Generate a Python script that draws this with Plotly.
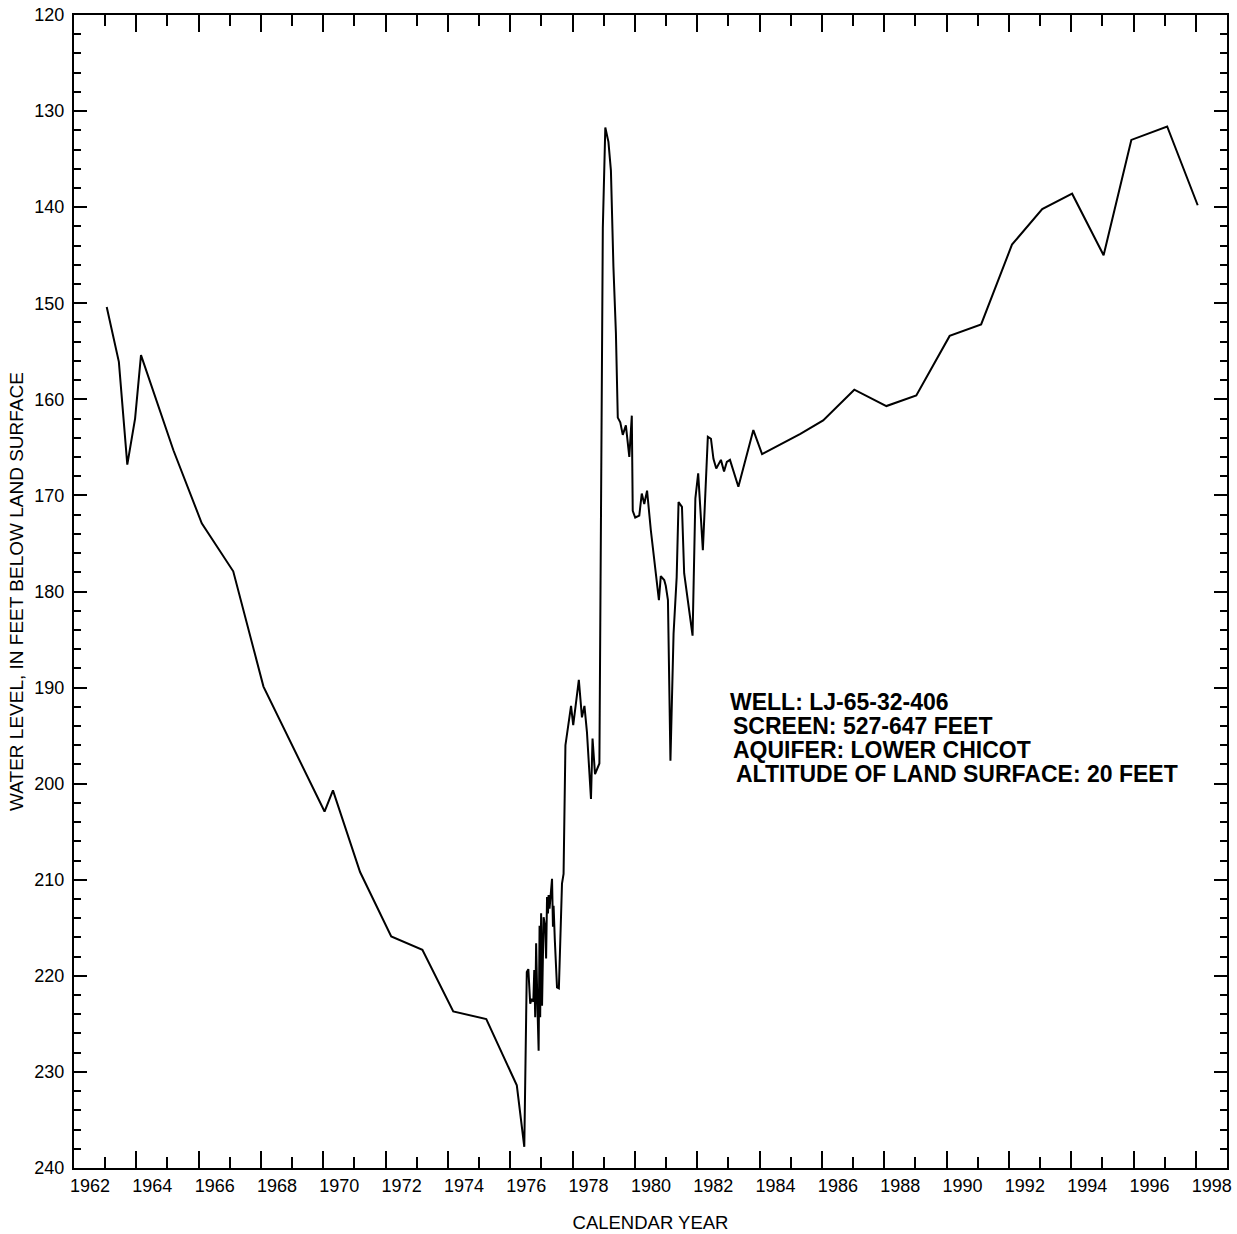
import plotly.graph_objects as go

# Decimal calendar year of each measurement
years = [
    1963.05, 1963.44, 1963.71, 1963.96, 1964.15, 1965.19, 1966.10, 1967.11,
    1968.08, 1970.04, 1970.31, 1971.18, 1972.18, 1973.18, 1974.17, 1975.23,
    1976.21, 1976.45,
    1976.53, 1976.58, 1976.64, 1976.69, 1976.74, 1976.77, 1976.80, 1976.83,
    1976.87, 1976.91, 1976.94, 1976.96, 1976.99, 1977.02, 1977.07, 1977.12,
    1977.15, 1977.18, 1977.21, 1977.23, 1977.26, 1977.30, 1977.34, 1977.37,
    1977.39, 1977.43, 1977.50, 1977.56, 1977.60, 1977.66, 1977.71, 1977.77,
    1977.95, 1978.02, 1978.20, 1978.30, 1978.38, 1978.46, 1978.59, 1978.64,
    1978.72, 1978.86, 1978.97, 1979.05, 1979.15, 1979.23, 1979.31, 1979.39,
    1979.45, 1979.53, 1979.61, 1979.71, 1979.82, 1979.90, 1979.93, 1980.01,
    1980.14, 1980.22, 1980.30, 1980.39, 1980.51, 1980.65, 1980.77, 1980.83,
    1980.94, 1980.99, 1981.06, 1981.14, 1981.24, 1981.34, 1981.40, 1981.51,
    1981.58, 1981.85, 1981.94, 1982.03, 1982.18, 1982.34, 1982.44, 1982.52,
    1982.61, 1982.76, 1982.86, 1982.95, 1983.05, 1983.32, 1983.80, 1984.08,
    1985.31, 1986.04, 1987.04, 1988.07, 1989.03, 1990.10, 1991.11, 1992.10,
    1993.07, 1994.03, 1995.04, 1995.93, 1997.08, 1998.06,
]

# Water level, in feet below land surface
levels = [
    150.4, 156.1, 166.8, 162.0, 155.4, 165.3, 172.9, 177.9,
    189.9, 202.9, 200.7, 209.2, 215.9, 217.3, 223.7, 224.5,
    231.4, 237.8,
    219.6, 219.3, 222.9, 222.4, 222.7, 219.4, 224.3, 216.6,
    222.9, 227.8, 214.8, 224.3, 213.5, 223.1, 213.9, 214.9,
    218.2, 211.8, 213.5, 211.6, 213.0, 211.4, 209.9, 214.9,
    212.7, 216.3, 221.2, 221.3, 216.3, 210.4, 209.4, 196.0,
    191.9, 193.9, 189.2, 193.1, 191.9, 194.6, 201.6, 195.3,
    199.0, 197.9, 142.2, 131.7, 133.2, 136.2, 146.2, 153.1,
    161.9, 162.4, 163.7, 162.7, 166.0, 161.7, 171.6, 172.3,
    172.1, 169.8, 170.9, 169.5, 173.6, 177.8, 180.9, 178.4,
    178.8, 179.4, 180.9, 197.6, 184.4, 178.5, 170.7, 171.2,
    178.1, 184.6, 170.3, 167.7, 175.7, 163.9, 164.1, 166.2,
    167.2, 166.3, 167.5, 166.5, 166.3, 169.1, 163.2, 165.7,
    163.6, 162.2, 159.0, 160.7, 159.6, 153.4, 152.2, 143.9,
    140.2, 138.6, 145.0, 133.0, 131.6, 139.8,
]

# Axis ticks and labels
major_year_ticks = list(range(1962, 1999, 2))
minor_year_ticks = list(range(1963, 1999, 2))
year_labels = [str(y) for y in major_year_ticks]
depth_ticks = list(range(120, 241, 10))
depth_labels = [str(d) for d in depth_ticks]

info_lines = [
    "WELL: LJ-65-32-406",
    "SCREEN: 527-647 FEET",
    "AQUIFER: LOWER CHICOT",
    "ALTITUDE OF LAND SURFACE: 20 FEET",
]

FONT = "Liberation Sans, Arial, sans-serif"

fig = go.Figure()
fig.add_trace(go.Scatter(
    x=years, y=levels, mode="lines",
    line=dict(color="black", width=2),
    showlegend=False, hoverinfo="skip",
))

fig.update_layout(
    width=1237, height=1234,
    margin=dict(l=74, r=10, t=15, b=66, autoexpand=False),
    paper_bgcolor="white", plot_bgcolor="white",
    font=dict(family=FONT, color="black", size=18),
    showlegend=False,
)

fig.update_xaxes(
    range=[1962, 1999],
    tickmode="array", tickvals=major_year_ticks, ticktext=year_labels,
    ticks="inside", ticklen=17, tickwidth=2, tickcolor="black",
    ticklabelshift=16, ticklabeloverflow="allow",
    minor=dict(tickmode="array", tickvals=minor_year_ticks, ticks="inside",
               ticklen=11, tickwidth=2, tickcolor="black", showgrid=False),
    showline=True, linecolor="black", linewidth=2, mirror="ticks",
    showgrid=False, zeroline=False,
    tickfont=dict(size=18, family=FONT),
    title=dict(text="CALENDAR YEAR", font=dict(size=18.5, family=FONT), standoff=21),
    automargin=False,
)

fig.update_yaxes(
    range=[240, 120],
    tickmode="array", tickvals=depth_ticks, ticktext=depth_labels,
    ticks="inside", ticklen=13, tickwidth=2, tickcolor="black",
    ticklabeloverflow="allow",
    minor=dict(dtick=2, ticks="inside", ticklen=7, tickwidth=2,
               tickcolor="black", showgrid=False),
    showline=True, linecolor="black", linewidth=2, mirror="ticks",
    showgrid=False, zeroline=False,
    tickfont=dict(size=18, family=FONT),
    ticklabelstandoff=4,
    title=dict(text="WATER LEVEL, IN FEET BELOW LAND SURFACE",
               font=dict(size=19, family=FONT), standoff=6),
    automargin=False,
)

# info block (paper coordinates)
line_x = [0.5684, 0.5706, 0.5706, 0.5735]
line_y = [0.4038, 0.3830, 0.3622, 0.3414]
for txt, px, py in zip(info_lines, line_x, line_y):
    fig.add_annotation(
        text="<b>%s</b>" % txt, xref="paper", yref="paper",
        x=px, y=py, xanchor="left", yanchor="middle", showarrow=False,
        font=dict(size=23, family=FONT, color="black"), borderpad=0,
    )

# remove the default page margin so the figure fills the window exactly
fig.write_html(
    "out.html",
    config={"displayModeBar": False},
    post_script="document.body.style.margin='0';document.body.style.overflow='hidden';",
)
